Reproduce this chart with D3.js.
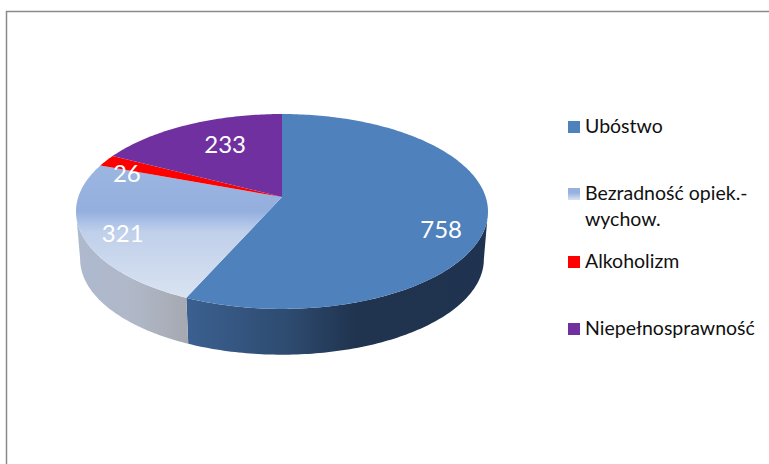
<!DOCTYPE html>
<html lang="pl">

<head>
    <meta charset="UTF-8">
    <title>Pie chart</title>
    <script src="https://d3js.org/d3.v7.min.js"></script>
    <style>
        body {
            margin: 0;
            overflow: hidden;
            background: #fff;
        }

        text {
            font-family: Lato, "Noto Sans", sans-serif;
        }
    </style>
</head>

<body>
    <script>
        // values
        var categories = ["Ubóstwo", "Bezradność opiek.-|wychow.", "Alkoholizm", "Niepełnosprawność"];
        var values = [758, 321, 26, 233];
        var sliceColors = ["#4f81bd", "url(#lightTop)", "#ff0000", "#7030a0"];
        var legendSwatches = ["#4f81bd", "url(#lightSwatch)", "#ff0000", "#7030a0"];

        var width = 769, height = 464;

        // tilted disc: the apex sits above the centre of the ellipse
        var cx = 282, apexY = 197, scaleX = 203.7, scaleY = 95.3, k = 0.1486;
        var depth = 48, bottomScale = 0.98;
        var silhouette = Math.acos(-k); // angle where the rim turns away from the viewer

        // nudges for the value labels, from the mid angle of each slice
        var labelRadius = 0.77;
        var labelNudge = [[2, 16], [-8, 6], [-18, 4], [17.5, 4]];
        var legendBaselines = [133, 200, 268, 335];
        var legendLineHeight = 26;

        function project(angle, r, s, yOff) {
            var u = r * Math.sin(angle),
                v = r * Math.cos(angle),
                w = 1 + k * v;
            return [cx + s * scaleX * u / w, apexY + yOff - s * scaleY * v / w];
        }

        // angles sampled along the rim
        function rim(a0, a1) {
            var n = Math.max(2, Math.ceil(Math.abs(a1 - a0) * 60));
            return d3.range(n + 1).map(i => a0 + (a1 - a0) * i / n);
        }

        var line = d3.line();

        var svg = d3.select("body").append("svg")
            .attr("width", width)
            .attr("height", height)
            .style("display", "block");

        var defs = svg.append("defs");

        function gradient(id, attrs, stops) {
            var g = defs.append("linearGradient").attr("id", id);
            Object.entries(attrs).forEach(([key, val]) => g.attr(key, val));
            g.selectAll("stop")
                .data(stops)
                .enter().append("stop")
                .attr("offset", d => d[0])
                .attr("stop-color", d => d[1]);
        }

        var lightStops = [[0, "#9bb6e0"], [0.34, "#94afde"], [0.42, "#a9c0e6"], [0.5, "#c0d0ea"], [1, "#d9e3f1"]];
        gradient("lightTop", { gradientUnits: "userSpaceOnUse", x1: 0, x2: 0, y1: 166, y2: 298 }, lightStops);
        gradient("lightSwatch", { x1: 0, x2: 0, y1: 0, y2: 1 }, [[0, "#96b1de"], [0.4, "#96b1de"], [1, "#d9e3f1"]]);
        gradient("darkWall", { gradientUnits: "userSpaceOnUse", x1: 188, x2: 490, y1: 0, y2: 0 },
            [[0, "#3b6090"], [0.33, "#2e4b70"], [0.55, "#20344f"], [1, "#1f3350"]]);
        gradient("lightWall", { gradientUnits: "userSpaceOnUse", x1: 76, x2: 190, y1: 0, y2: 0 },
            [[0, "#aeb9cf"], [0.5, "#b0b8c8"], [1, "#a5a8b0"]]);

        // frame, open on the right and at the bottom
        svg.append("path")
            .attr("d", "M6.5,464V11.5H769")
            .attr("fill", "none")
            .attr("stroke", "#8a8a8a")
            .attr("stroke-width", 1.5);

        var arcs = d3.pie().sort(null)(values);

        // side walls, only the part of the rim facing the viewer
        var walls = arcs.map(function(d, i) {
            return {
                a0: Math.max(d.startAngle, silhouette),
                a1: Math.min(d.endAngle, 2 * Math.PI - silhouette),
                fill: ["url(#darkWall)", "url(#lightWall)", "none", "none"][i]
            };
        }).filter(d => d.a1 > d.a0);

        svg.append("g")
            .selectAll("path")
            .data(walls)
            .enter().append("path")
            .attr("fill", d => d.fill)
            .attr("d", function(d) {
                var top = rim(d.a0, d.a1).map(a => project(a, 1, 1, 0));
                var bottom = rim(d.a1, d.a0).map(a => project(a, 1, bottomScale, depth));
                return line(top.concat(bottom)) + "Z";
            });

        // top face
        svg.append("g")
            .selectAll("path")
            .data(arcs)
            .enter().append("path")
            .attr("fill", (d, i) => sliceColors[i])
            .attr("d", function(d) {
                var pts = rim(d.startAngle, d.endAngle).map(a => project(a, 1, 1, 0));
                return line([[cx, apexY]].concat(pts)) + "Z";
            });

        // value labels
        svg.append("g")
            .selectAll("text")
            .data(arcs)
            .enter().append("text")
            .attr("text-anchor", "middle")
            .attr("dominant-baseline", "central")
            .attr("fill", "#fff")
            .attr("font-size", 24)
            .attr("x", (d, i) => project((d.startAngle + d.endAngle) / 2, labelRadius, 1, 0)[0] + labelNudge[i][0])
            .attr("y", (d, i) => project((d.startAngle + d.endAngle) / 2, labelRadius, 1, 0)[1] + labelNudge[i][1])
            .text(d => d.value);

        // legend
        var legend = svg.append("g")
            .selectAll("g")
            .data(categories)
            .enter().append("g")
            .attr("transform", (d, i) => `translate(0,${legendBaselines[i]})`);

        legend.append("rect")
            .attr("x", 568)
            .attr("y", -12)
            .attr("width", 12)
            .attr("height", 12)
            .attr("fill", (d, i) => legendSwatches[i]);

        legend.append("text")
            .attr("font-size", 19.5)
            .attr("fill", "#111")
            .selectAll("tspan")
            .data(d => d.split("|"))
            .enter().append("tspan")
            .attr("x", 585)
            .attr("y", (d, i) => i * legendLineHeight)
            .text(d => d);
    </script>
</body>

</html>
